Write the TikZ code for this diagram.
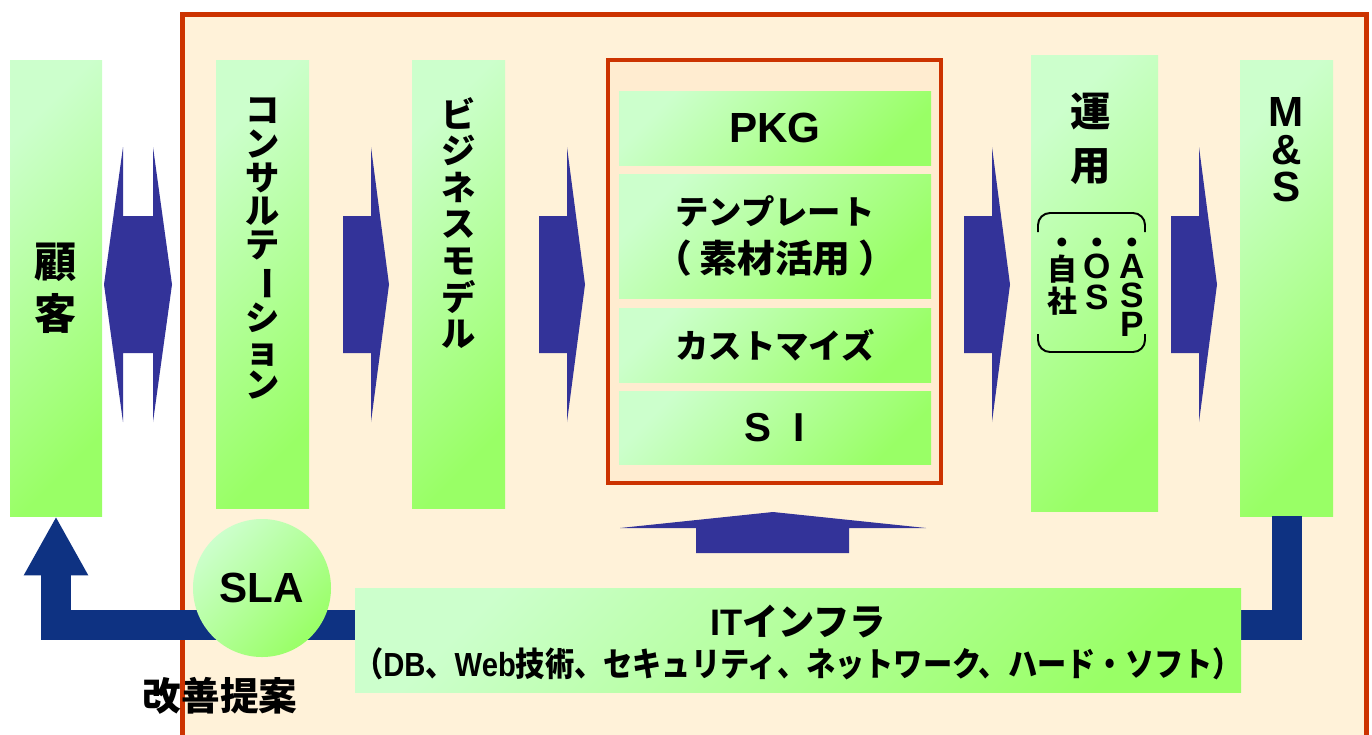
\documentclass[tikz,border=0pt]{standalone}
\usepackage{fontspec}
\usepackage{graphicx}
\setmainfont{Noto Sans CJK JP}
\newfontfamily\lat{Liberation Sans}
\usetikzlibrary{arrows.meta}

\definecolor{framered}{RGB}{204,51,0}
\definecolor{cream}{RGB}{255,242,217}
\definecolor{innercream}{RGB}{255,236,208}
\definecolor{paleg}{RGB}{204,255,204}
\definecolor{brightg}{RGB}{153,255,102}
\definecolor{arrowblue}{RGB}{51,51,153}
\definecolor{loopblue}{RGB}{14,50,130}

% vertical long-vowel bar for the stacked katakana
\newcommand\tatebar{\rotatebox[origin=c]{-90}{ー}}

\tikzset{
  greenfill/.style={top color=paleg, bottom color=brightg, shading angle=45},
  colbox/.style 2 args={greenfill, minimum width=#1*0.2mm, minimum height=#2*0.2mm, inner sep=0pt},
  stack/.style={align=center, inner sep=0pt, anchor=north},
  barfont/.style={font=\bfseries\fontsize{19}{24.4}\selectfont, align=center},
  dotfont/.style={inner sep=0pt, anchor=north, font=\bfseries\fontsize{18}{18}\selectfont}
}

\begin{document}
\begin{tikzpicture}[x=0.2mm, y=-0.2mm]
\useasboundingbox (0,0) rectangle (1372,734);
\clip (0,0) rectangle (1372,734);

% Draw outer frame (runs off the bottom edge)
\draw[framered, line width=2.8pt, fill=cream] (182.5,14.5) rectangle (1366.5,760);

% Customer column and double arrow
\node[colbox={92}{456}, font=\bfseries\fontsize{24}{29.5}\selectfont, align=center] (kokyaku) at (56,288) {顧\\客};
\fill[arrowblue] (104,284.5) -- (123,147) -- (123,216) -- (153,216) -- (153,147) -- (172,284.5)
  -- (153,422) -- (153,353) -- (123,353) -- (123,422) -- cycle;

% Consulting and business model columns
\node[colbox={93}{448}] (consul) at (262.5,284) {};
\node[stack, font=\bfseries\fontsize{19.5}{19.3}\selectfont] (consultxt) at (262.5,97)
  {コ\\ン\\サ\\ル\\テ\\\tatebar\\シ\\ョ\\ン};
\node[colbox={93}{448}] (bizmodel) at (458.5,284) {};
\node[stack, font=\bfseries\fontsize{19.5}{20.8}\selectfont] (bizmodeltxt) at (458.5,97)
  {ビ\\ジ\\ネ\\ス\\モ\\デ\\ル};

% Block arrows pointing right
\fill[arrowblue] (343,216) -- ++(28,0) -- ++(0,-69) -- ++(18,137.5) -- ++(-18,137.5) -- ++(0,-69) -- ++(-28,0) -- cycle;
\fill[arrowblue] (539,216) -- ++(28,0) -- ++(0,-69) -- ++(18,137.5) -- ++(-18,137.5) -- ++(0,-69) -- ++(-28,0) -- cycle;
\fill[arrowblue] (964,216) -- ++(28,0) -- ++(0,-69) -- ++(18,137.5) -- ++(-18,137.5) -- ++(0,-69) -- ++(-28,0) -- cycle;
\fill[arrowblue] (1171,216) -- ++(28,0) -- ++(0,-69) -- ++(18,137.5) -- ++(-18,137.5) -- ++(0,-69) -- ++(-28,0) -- cycle;

% Inner frame with its four bars
\node[draw=framered, line width=2.3pt, fill=innercream, minimum width=333*0.2mm, minimum height=423*0.2mm] (core) at (774.5,271.5) {};
\node[colbox={312}{74}, font=\bfseries\fontsize{24}{24}\selectfont] (pkg) at (775,128) {{\lat PKG}};
\node[colbox={312}{124}, barfont] (template) at (775,236)
  {テンプレート\\[3pt]{\fontsize{21.5}{24.4}\selectfont\kern-.2em（\kern.2em素材活用\kern.2em）\kern-.2em}};
\node[colbox={312}{74}, barfont] (custom) at (775,345) {カストマイズ};
\node[colbox={312}{73}, font=\bfseries\lat\fontsize{23}{23}\selectfont] (si) at (775,427.5) {S\hspace{0.55em}I};

% Up arrow under the inner frame
\fill[arrowblue] (696,553) -- (696,528) -- (620,528) -- (773,512) -- (926,528) -- (849,528) -- (849,553) -- cycle;

% Operation column
\node[colbox={127}{456}] (unyo) at (1094.5,283) {};
\node[stack, font=\bfseries\fontsize{23}{30.6}\selectfont] (unyotxt) at (1091,93) {運\\用};
\draw[line width=1.1pt, rounded corners=2.4mm] (1038,232) -- (1038,213) -- (1145,213) -- (1145,232);
\draw[line width=1.1pt, rounded corners=2.4mm] (1038,334) -- (1038,352) -- (1145,352) -- (1145,334);
\node[dotfont] (dot1) at (1062,238) {・};
\node[dotfont] (dot2) at (1097,238) {・};
\node[dotfont] (dot3) at (1132,238) {・};
\node[stack, font=\bfseries\fontsize{17}{18}\selectfont] (jisha) at (1062,255) {自\\社};
\node[stack, font=\bfseries\lat\fontsize{20}{17.5}\selectfont] (os) at (1097,254) {O\\S};
\node[stack, font=\bfseries\lat\fontsize{20}{16.5}\selectfont] (asp) at (1132,254) {A\\S\\P};

% M&S column
\node[colbox={93}{456}] (ms) at (1286.5,288) {};
\node[stack, font=\bfseries\lat\fontsize{24}{21.5}\selectfont] (mstxt) at (1286.5,97) {M\\\&\\S};

% Feedback loop back to the customer
\coordinate (turn) at (56,625);
\draw[loopblue, line width=6mm, -{Triangle[width=12mm,length=11.8mm]}] (ms.south) |- (turn) -- (kokyaku.south);

% SLA and IT infrastructure
\node[circle, greenfill, minimum size=138*0.2mm, inner sep=0pt, font=\bfseries\lat\fontsize{24}{24}\selectfont] (sla) at (262,588) {SLA};
\node[colbox={886}{104}] (itinfra) at (798,640) {};
\node[font=\bfseries\fontsize{21}{21}\selectfont] (itline) at (798,622) {\scalebox{0.98}[1]{{\lat IT}インフラ}};
\node[font=\bfseries\fontsize{19}{19}\selectfont] (itdetail) at (798,664)
  {\scalebox{0.875}[1]{（{\lat DB}、{\lat Web}技術、セキュリティ、ネットワーク、ハード・ソフト）}};

\node[font=\bfseries\fontsize{22}{22}\selectfont] (kaizen) at (220,696) {改善提案};
\end{tikzpicture}
\end{document}
